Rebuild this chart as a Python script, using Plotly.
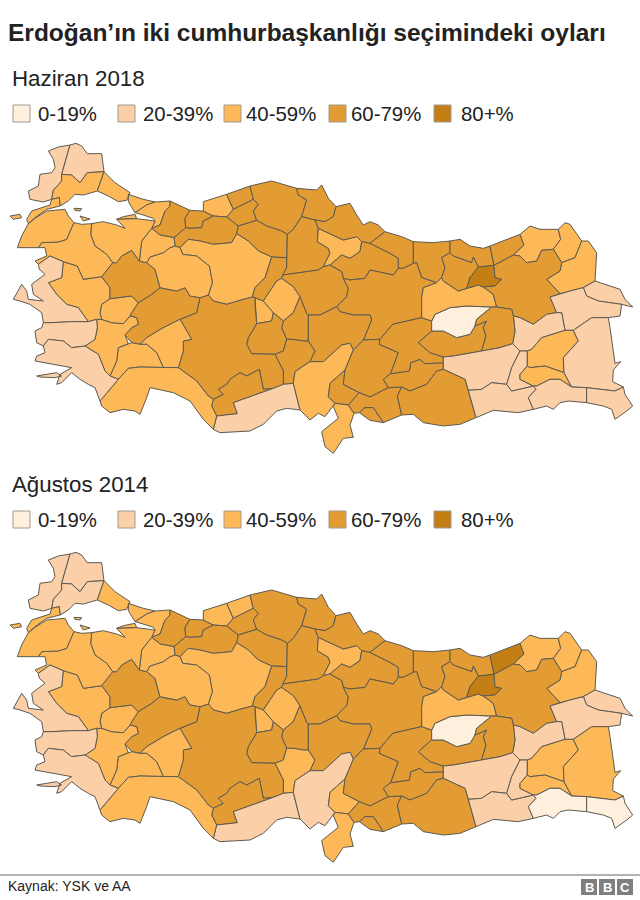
import plotly.graph_objects as go

# province outlines, traced by eye. map units are 1/3 of a screen pixel, y grows downwards
outlines = {
    'Edirne': [[(210,42),(175,48),(145,60),(160,85),(165,110),(155,125),(120,130),(115,165),(85,180),(90,205),(130,213),(155,205),(160,178),(185,150),(185,130),(195,95)]],
    'Kırklareli': [[(210,42),(228,37),(245,45),(262,68),(305,68),(312,122),(262,125),(240,155),(215,132),(185,130),(195,95)]],
    'Tekirdağ': [[(185,130),(215,132),(240,155),(262,125),(312,122),(292,180),(250,192),(225,190),(205,210),(180,225),(178,200),(155,205),(160,178),(185,150)]],
    'İstanbul': [[(312,122),(345,155),(390,185),(380,208),(355,212),(325,195),(292,180)],
                 [(385,190),(430,205),(465,213),(440,222),(405,245),(385,212)]],
    'Kocaeli': [[(405,245),(440,222),(465,213),(510,210),(510,225),(495,240),(480,282),(455,292),(465,270),(460,262),(423,250)]],
    'Sakarya': [[(510,210),(570,238),(555,262),(557,290),(522,320),(480,312),(455,292),(480,282),(495,240),(510,225)]],
    'Düzce': [[(570,238),(610,240),(640,255),(610,270),(605,290),(570,292),(557,290),(555,262)]],
    'Zonguldak': [[(610,240),(610,212),(680,190),(700,235),(680,258),(640,255)]],
    'Bartın': [[(680,190),(750,165),(760,205),(700,235)]],
    'Karabük': [[(700,235),(760,205),(775,220),(760,240),(770,268),(715,285),(680,258)]],
    'Kastamonu': [[(750,165),(815,150),(890,172),(895,192),(920,207),(905,257),(880,295),(862,310),(845,300),(800,285),(770,268),(760,240),(775,220),(760,205)]],
    'Bolu': [[(557,290),(570,292),(605,290),(610,270),(640,255),(680,258),(715,285),(710,308),(695,335),(640,340),(600,330),(565,325),(540,350),(525,345),(522,320)]],
    'Çankırı': [[(715,285),(770,268),(800,285),(845,300),(862,310),(860,380),(815,378),(775,360),(745,330),(710,308)]],
    'Ankara': [[(540,350),(565,325),(600,330),(640,340),(695,335),(710,308),(745,330),(775,360),(815,378),(805,410),(795,440),(765,470),(757,498),(720,508),(680,520),(640,510),(625,492),(637,455),(628,405),(590,375),(548,370)],
               [(765,500),(790,510),(820,545),(815,570),(770,578),(765,520)]],
    'Kırıkkale': [[(815,378),(860,380),(860,410),(848,432),(845,442),(830,450),(790,510),(765,500),(757,498),(765,470),(795,440),(805,410)]],
    'Kırşehir': [[(790,510),(830,450),(845,442),(880,467),(900,497),(880,545),(850,570),(820,545)]],
    'Nevşehir': [[(850,570),(880,545),(900,497),(920,547),(925,552),(925,600),(925,630),(910,630),(880,625),(860,625),(845,590)]],
    'Aksaray': [[(770,578),(815,570),(820,545),(850,570),(845,590),(860,625),(850,660),(825,670),(755,668),(740,640),(745,620)]],
    'Niğde': [[(860,625),(880,625),(910,630),(925,630),(945,660),(930,692),(885,722),(880,757),(850,760),(850,720),(825,670),(850,660)]],
    'Konya': [[(600,500),(625,492),(640,510),(680,520),(720,508),(757,498),(765,500),(765,520),(770,578),(745,620),(740,640),(755,668),(825,670),(850,720),(850,760),(820,772),(790,775),(778,715),(740,735),(720,725),(690,745),(680,760),(655,775),(670,790),(640,805),(625,795),(590,750),(535,710),(550,660),(550,630),(575,625),(540,565),(590,545)]],
    'Karaman': [[(655,775),(680,760),(690,745),(720,725),(740,735),(778,715),(790,775),(820,772),(700,815),(712,848),(650,855),(635,825),(640,805),(670,790)]],
    'Mersin': [[(640,895),(650,855),(712,848),(700,815),(820,772),(850,760),(880,757),(900,837),(860,832),(830,840),(790,880),(750,900),(660,905)]],
    'Afyon': [[(415,515),(455,490),(480,470),(500,475),(530,480),(555,470),(570,495),(600,500),(590,545),(540,565),(490,590),(440,620),(420,640),(395,635),(375,612),(395,590),(415,580),(410,560),(390,555),(395,545)]],
    'Isparta': [[(420,640),(440,620),(490,590),(540,565),(575,625),(550,630),(550,660),(535,710),(490,710),(470,665),(440,640)]],
    'Burdur': [[(355,650),(385,638),(395,635),(420,640),(440,640),(470,665),(490,710),(420,708),(385,712),(355,745),(330,735),(350,690)]],
    'Antalya': [[(355,745),(385,712),(420,708),(490,710),(535,710),(590,750),(625,795),(640,805),(635,825),(650,855),(640,895),(610,865),(570,810),(520,785),(450,770),(440,800),(420,850),(405,840),(370,835),(330,845),(305,825),(300,810)]],
    'Denizli': [[(290,565),(305,565),(335,575),(370,578),(390,555),(410,560),(415,580),(395,590),(375,612),(385,638),(355,650),(350,690),(330,735),(315,720),(295,670),(255,645),(285,625),(292,590)]],
    'Uşak': [[(305,520),(330,503),(395,495),(415,515),(395,545),(390,555),(370,578),(335,575),(305,565),(300,545)]],
    'Manisa': [[(190,392),(232,405),(250,445),(305,437),(330,470),(330,503),(305,520),(300,545),(305,565),(290,565),(265,572),(235,530),(200,520),(170,490),(145,455),(185,440)]],
    'Kütahya': [[(338,395),(350,395),(365,375),(395,358),(418,390),(440,395),(465,415),(480,470),(455,490),(415,515),(395,495),(330,503),(330,470),(305,437)]],
    'Eskişehir': [[(440,395),(450,378),(490,365),(510,350),(525,345),(540,350),(548,370),(590,375),(628,405),(637,455),(625,492),(600,500),(570,495),(555,470),(530,480),(500,475),(480,470),(465,415)]],
    'Bilecik': [[(455,292),(480,312),(522,320),(525,345),(510,350),(490,365),(450,378),(440,395),(418,390),(420,365),(425,330)]],
    'Yalova': [[(350,265),(370,257),(405,250),(410,263)]],
    'Bursa': [[(275,278),(310,272),(350,282),(375,292),(350,265),(410,263),(465,270),(455,292),(425,330),(420,365),(418,390),(395,358),(365,375),(350,395),(338,395),(320,370),(285,345),(272,310)]],
    'Balıkesir': [[(222,275),(245,280),(275,278),(272,310),(285,345),(320,370),(338,395),(305,437),(250,445),(232,405),(190,392),(150,375),(115,400),(105,390),(140,375),(135,350),(115,350),(125,335),(175,333),(200,325),(215,290)],
                  [(222,232),(245,233),(240,240),(225,238)], [(240,255),(270,264),(250,270)]],
    'Çanakkale': [[(85,278),(105,262),(140,240),(195,235),(205,255),(222,275),(215,290),(200,325),(175,333),(125,335),(115,350),(52,350),(65,315),(78,290)],
                  [(178,200),(180,225),(140,235),(105,260),(85,278),(80,265),(95,240),(150,222),(155,205)],
                  [(30,255),(60,250),(65,260),(40,265)]],
    'İzmir': [[(115,400),(150,375),(190,392),(185,440),(145,455),(170,490),(200,520),(235,530),(265,572),(215,572),(155,575),(130,575),(125,545),(90,520),(60,510),(40,505),(65,460),(80,480),(85,505),(130,510),(100,490),(95,460),(135,430),(118,415)]],
    'Aydın': [[(130,575),(155,575),(215,572),(265,572),(290,565),(292,590),(285,625),(255,645),(215,650),(190,630),(145,625),(130,645),(110,635),(105,600),(125,590)]],
    'Muğla': [[(145,625),(190,630),(215,650),(255,645),(295,670),(315,720),(330,735),(355,745),(300,810),(285,770),(265,760),(240,745),(215,725),(185,755),(170,760),(180,730),(215,710),(105,690),(110,675),(135,665),(130,645)],
              [(110,735),(170,725),(185,735),(165,740),(120,738)]],
    'Sinop': [[(890,172),(950,177),(965,162),(985,202),(1008,227),(1000,257),(975,272),(945,267),(905,257),(920,207),(895,192)]],
    'Çorum': [[(905,257),(945,267),(955,292),(952,332),(985,352),(990,367),(970,407),(955,417),(920,422),(848,432),(860,410),(860,380),(862,310),(880,295)]],
    'Amasya': [[(955,292),(1030,327),(1070,317),(1085,332),(1080,362),(1050,382),(1025,372),(990,402),(970,407),(990,367),(985,352),(952,332)]],
    'Samsun': [[(1008,227),(1050,217),(1070,252),(1090,282),(1110,272),(1135,282),(1155,302),(1110,337),(1085,332),(1070,317),(1030,327),(955,292),(945,267),(975,272),(1000,257)]],
    'Tokat': [[(1085,332),(1110,337),(1170,367),(1195,382),(1195,412),(1180,432),(1110,417),(1095,442),(1050,447),(1030,442),(1025,422),(990,402),(1025,372),(1050,382),(1080,362)]],
    'Ordu': [[(1155,302),(1205,317),(1240,332),(1240,367),(1240,397),(1210,412),(1195,412),(1195,382),(1170,367),(1110,337)]],
    'Giresun': [[(1240,332),(1300,335),(1350,330),(1350,365),(1325,380),(1335,410),(1325,440),(1310,455),(1265,440),(1250,395),(1240,397),(1240,367)]],
    'Yozgat': [[(848,432),(920,422),(955,417),(970,407),(990,402),(1025,422),(1030,442),(1045,472),(1040,497),(1010,527),(960,552),(925,552),(920,547),(900,497),(880,467),(845,442)]],
    'Sivas': [[(1030,442),(1050,447),(1095,442),(1110,417),(1180,432),(1195,412),(1210,412),(1240,397),(1250,395),(1265,440),(1310,455),(1270,470),(1265,500),(1265,560),(1178,580),(1140,625),(1090,627),(1115,567),(1110,552),(1060,552),(1020,542),(1010,527),(1040,497),(1045,472)]],
    'Kayseri': [[(925,552),(960,552),(1010,527),(1020,542),(1060,552),(1110,552),(1115,567),(1090,627),(1060,657),(1050,637),(1025,642),(970,692),(930,692),(945,660),(925,630),(925,600)]],
    'Adana': [[(880,757),(885,722),(930,692),(970,692),(1025,642),(1050,637),(1060,657),(1035,717),(990,757),(985,797),(1005,817),(975,857),(955,847),(930,867),(900,837)]],
    'Osmaniye': [[(985,797),(990,757),(1035,717),(1030,760),(1078,785),(1045,822),(1005,817)]],
    'Hatay': [[(1005,817),(1045,822),(1062,847),(1050,882),(1060,919),(1030,922),(1000,967),(975,947),(965,902),(1015,862),(1000,827)]],
    'Kahramanmaraş': [[(1090,627),(1140,625),(1138,640),(1195,665),(1172,728),(1150,745),(1165,770),(1110,798),(1078,785),(1030,760),(1035,717),(1060,657)]],
    'Gaziantep': [[(1045,822),(1078,785),(1110,798),(1165,770),(1205,768),(1192,795),(1205,852),(1150,875),(1120,830),(1095,830),(1078,845),(1062,847)]],
    'Kilis': [[(1078,845),(1095,830),(1120,830),(1150,875),(1110,868)]],
    'Adıyaman': [[(1150,745),(1172,728),(1228,720),(1232,695),(1260,685),(1275,698),(1330,695),(1330,715),(1310,720),(1280,760),(1230,780),(1205,768),(1165,770)]],
    'Malatya': [[(1138,640),(1140,625),(1178,580),(1265,560),(1295,570),(1295,600),(1255,635),(1290,665),(1330,678),(1330,695),(1275,698),(1260,685),(1232,695),(1228,720),(1172,728),(1195,665)]],
    'Elazığ': [[(1255,635),(1295,600),(1330,600),(1370,620),(1410,610),(1425,585),(1460,570),(1450,590),(1458,615),(1445,660),(1360,675),(1330,678),(1290,665)]],
    'Tunceli': [[(1305,550),(1350,530),(1400,525),(1475,528),(1430,565),(1425,585),(1410,610),(1370,620),(1330,600),(1295,600),(1295,570)]],
    'Erzincan': [[(1270,470),(1310,455),(1325,440),(1330,450),(1375,480),(1400,472),(1435,462),(1450,468),(1480,490),(1490,528),(1475,528),(1400,525),(1350,530),(1305,550),(1295,570),(1265,560),(1265,500)]],
    'Trabzon': [[(1350,330),(1380,325),(1410,345),(1450,352),(1470,345),(1482,403),(1435,408),(1420,378),(1415,395),(1360,375),(1350,365)]],
    'Gümüşhane': [[(1350,365),(1360,375),(1415,395),(1420,378),(1435,408),(1410,440),(1400,472),(1375,480),(1330,450),(1325,440),(1335,410),(1325,380)]],
    'Bayburt': [[(1435,408),(1482,403),(1485,440),(1505,445),(1485,465),(1450,468),(1435,462),(1400,472),(1410,440)]],
    'Rize': [[(1470,345),(1560,310),(1572,342),(1540,372),(1482,403)]],
    'Artvin': [[(1560,310),(1590,285),(1620,295),(1675,295),(1682,325),(1660,355),(1625,358),(1610,390),(1580,395),(1560,375),(1540,372),(1572,342)]],
    'Ardahan': [[(1675,295),(1695,275),(1710,280),(1745,330),(1725,380),(1685,395),(1660,355),(1682,325)]],
    'Kars': [[(1745,330),(1765,330),(1790,365),(1785,450),(1750,470),(1710,480),(1680,488),(1640,445),(1680,420),(1685,395),(1725,380)]],
    'Erzurum': [[(1482,403),(1540,372),(1560,375),(1580,395),(1610,390),(1625,358),(1660,355),(1685,395),(1680,420),(1640,445),(1680,488),(1650,498),(1670,545),(1640,550),(1600,580),(1560,560),(1540,555),(1535,535),(1490,528),(1480,490),(1450,468),(1485,465),(1505,445),(1485,440)]],
    'Iğdır': [[(1750,470),(1785,450),(1860,475),(1875,505),(1898,528),(1865,520),(1795,510),(1760,495)]],
    'Ağrı': [[(1650,498),(1680,488),(1710,480),(1750,470),(1760,495),(1795,510),(1865,520),(1860,555),(1825,560),(1775,560),(1720,598),(1695,598),(1685,545),(1670,545)]],
    'Muş': [[(1540,555),(1560,560),(1600,580),(1640,550),(1670,545),(1685,545),(1695,598),(1625,620),(1595,655),(1582,660),(1560,660),(1538,638),(1545,600)]],
    'Bingöl': [[(1430,565),(1475,528),(1490,528),(1535,535),(1540,555),(1545,600),(1538,638),(1500,650),(1445,660),(1458,615),(1450,590),(1460,570),(1425,585)]],
    'Diyarbakır': [[(1330,678),(1360,675),(1445,660),(1500,650),(1538,638),(1560,660),(1535,710),(1520,760),(1475,755),(1445,775),(1405,778),(1395,745),(1330,715),(1330,695)]],
    'Şanlıurfa': [[(1192,795),(1205,768),(1230,780),(1280,760),(1310,720),(1330,715),(1395,745),(1405,778),(1428,860),(1380,880),(1330,885),(1270,875),(1240,850),(1205,852)]],
    'Mardin': [[(1405,778),(1445,775),(1475,755),(1520,760),(1535,780),(1600,765),(1608,775),(1585,800),(1600,835),(1555,845),(1480,838),(1428,860)]],
    'Batman': [[(1560,660),(1582,660),(1582,705),(1560,730),(1560,745),(1600,765),(1535,780),(1520,760),(1535,710)]],
    'Bitlis': [[(1582,660),(1595,655),(1625,620),(1695,598),(1720,598),(1735,630),(1690,680),(1692,725),(1635,705),(1590,710),(1582,705)]],
    'Siirt': [[(1560,730),(1582,705),(1590,710),(1635,705),(1692,725),(1715,768),(1680,745),(1650,745),(1610,765),(1600,765),(1560,745)]],
    'Van': [[(1720,598),(1775,560),(1825,560),(1830,590),(1845,697),(1862,692),(1840,717),(1838,752),(1870,768),(1845,780),(1760,770),(1715,768),(1692,725),(1690,680),(1735,630)]],
    'Şırnak': [[(1585,800),(1608,775),(1600,765),(1610,765),(1650,745),(1680,745),(1715,768),(1760,770),(1760,815),(1705,810),(1680,815),(1660,835),(1640,825),(1600,835)]],
    'Hakkari': [[(1760,770),(1845,780),(1870,768),(1875,790),(1898,825),(1880,840),(1845,865),(1835,835),(1810,825),(1760,815)]],
}

classes = ['0-19%', '20-39%', '40-59%', '60-79%', '80+%']
class_colors = ['#fff0dd', '#fbcfa8', '#fdb857', '#e39b33', '#c47f14']

# provinces per vote class, everything not listed is 60-79%
votes_2018 = {
    0: ['Tunceli'],
    1: ['Edirne', 'Kırklareli', 'İzmir', 'Aydın', 'Muğla', 'Mersin', 'Iğdır', 'Ağrı', 'Van', 'Muş',
        'Diyarbakır', 'Mardin', 'Batman', 'Şırnak', 'Hakkari'],
    2: ['Tekirdağ', 'İstanbul', 'Kocaeli', 'Yalova', 'Bursa', 'Bilecik', 'Balıkesir', 'Çanakkale', 'Manisa',
        'Uşak', 'Denizli', 'Burdur', 'Isparta', 'Antalya', 'Eskişehir', 'Ankara', 'Zonguldak', 'Kırşehir',
        'Amasya', 'Hatay', 'Adana', 'Erzincan', 'Artvin', 'Ardahan', 'Kars', 'Bitlis', 'Siirt'],
    4: ['Bayburt'],
}
votes_2014 = {
    0: ['Tunceli', 'Şırnak', 'Hakkari'],
    1: ['Edirne', 'Kırklareli', 'Tekirdağ', 'İzmir', 'Aydın', 'Muğla', 'Mersin', 'Adana', 'Diyarbakır',
        'Mardin', 'Batman', 'Muş', 'Iğdır', 'Ağrı'],
    2: ['İstanbul', 'Kocaeli', 'Yalova', 'Bursa', 'Bilecik', 'Balıkesir', 'Çanakkale', 'Manisa', 'Uşak',
        'Denizli', 'Burdur', 'Isparta', 'Antalya', 'Eskişehir', 'Ankara', 'Zonguldak', 'Bartın', 'Kırşehir',
        'Niğde', 'Amasya', 'Erzincan', 'Ardahan', 'Kars', 'Artvin', 'Hatay', 'Osmaniye', 'Van', 'Bitlis', 'Siirt'],
    4: ['Rize', 'Bayburt'],
}

WIDTH, HEIGHT = 640, 900
map_top = 131      # screen y of map unit 0, top map
map_bottom = 540   # same, bottom map
legend_x = [13, 118, 224, 329, 434]
label_x = [38, 143, 246, 351, 461]


def class_of(name, votes):
    for k, names in votes.items():
        if name in names:
            return k
    return 3


def add_map(fig, votes, yaxis):
    for name, rings in outlines.items():
        xs, ys = [], []
        for ring in rings:
            xs += [p[0] for p in ring] + [ring[0][0], None]
            ys += [p[1] for p in ring] + [ring[0][1], None]
        fig.add_trace(go.Scatter(x=xs, y=ys, yaxis=yaxis, mode='lines', fill='toself',
                                 fillcolor=class_colors[class_of(name, votes)],
                                 line=dict(color='#5c5a52', width=1),
                                 name=name, hoverinfo='name', showlegend=False))


def add_text(fig, x, y, text, size, color='#222222'):
    # annotations keep a 2px pad on the left
    fig.add_annotation(x=(x - 2) / WIDTH, y=1 - y / HEIGHT, xref='paper', yref='paper', text=text, showarrow=False,
                       xanchor='left', yanchor='middle', font=dict(family='Liberation Sans', size=size, color=color))


def add_legend(fig, y):
    for i, label in enumerate(classes):
        fig.add_shape(type='rect', xref='paper', yref='paper',
                      x0=legend_x[i] / WIDTH, x1=(legend_x[i] + 17) / WIDTH,
                      y0=1 - y / HEIGHT, y1=1 - (y + 17) / HEIGHT,
                      fillcolor=class_colors[i], line=dict(color='#a09a90', width=1))
        add_text(fig, label_x[i], y + 9, label, 20.4)


fig = go.Figure()
add_map(fig, votes_2018, 'y')
add_map(fig, votes_2014, 'y2')

add_text(fig, 8, 33, '<b>Erdoğan’ın iki cumhurbaşkanlığı seçimindeki oyları</b>', 24.5)
add_text(fig, 12, 78, 'Haziran 2018', 22.3)
add_text(fig, 12, 484, 'Ağustos 2014', 22.3)
add_legend(fig, 105)
add_legend(fig, 511)
add_text(fig, 8, 886, 'Kaynak: YSK ve AA', 14)

fig.add_shape(type='line', xref='paper', yref='paper', x0=0, x1=1,
              y0=1 - 875 / HEIGHT, y1=1 - 875 / HEIGHT, line=dict(color='#666666', width=1))
for x, letter in zip([581, 599, 617], 'BBC'):
    fig.add_shape(type='rect', xref='paper', yref='paper', x0=x / WIDTH, x1=(x + 16) / WIDTH,
                  y0=1 - 879 / HEIGHT, y1=1 - 895 / HEIGHT, fillcolor='#7f7f7f', line_width=0)
    fig.add_annotation(x=(x + 8) / WIDTH, y=1 - 887 / HEIGHT, xref='paper', yref='paper', text='<b>%s</b>' % letter,
                       showarrow=False, xanchor='center', yanchor='middle',
                       font=dict(family='Liberation Sans', size=13, color='white'))

fig.update_layout(
    width=WIDTH, height=HEIGHT, margin=dict(l=0, r=0, t=0, b=0),
    plot_bgcolor='white', paper_bgcolor='white', showlegend=False,
    xaxis=dict(range=[0, 1920], visible=False),
    yaxis=dict(range=[1050, 0], domain=[1 - (map_top + 350) / HEIGHT, 1 - map_top / HEIGHT], visible=False),
    yaxis2=dict(range=[1000, 0], domain=[1 - (map_bottom + 1000 / 3) / HEIGHT, 1 - map_bottom / HEIGHT],
                visible=False),
)

fig.write_html("out.html", config=dict(displayModeBar=False), post_script="document.body.style.margin='0';")
